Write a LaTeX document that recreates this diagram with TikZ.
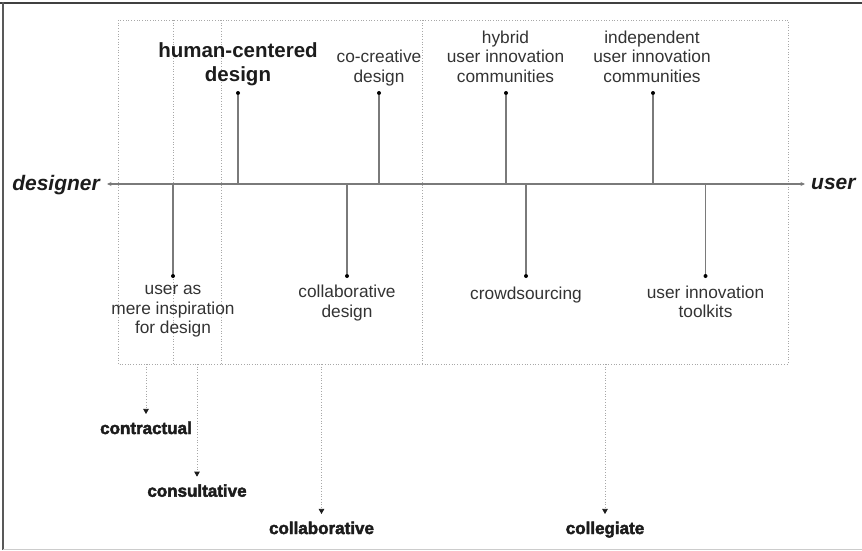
\documentclass[tikz,border=0pt]{standalone}
\usepackage{fontspec}
\setmainfont{Liberation Sans}
\newfontfamily\heavyfont[FakeBold=2.6]{Liberation Sans Bold}
\usetikzlibrary{arrows.meta}

\definecolor{axisgray}{HTML}{7A7A7A}
\definecolor{zonegray}{HTML}{A8A8A8}
\definecolor{textgray}{HTML}{333333}
\definecolor{inkblack}{HTML}{1C1C1C}

\begin{document}
\begin{tikzpicture}[x=1pt, y=-1pt,
  axisline/.style={draw=axisgray, line width=1.1pt},
  stem/.style={draw=axisgray, line width=1.1pt},
  dotmark/.style={circle, fill=black, inner sep=0pt, minimum size=4pt},
  zone/.style={draw=zonegray, dotted, line width=0.7pt},
  lbl/.style={font=\fontsize{17.3}{19.3}\selectfont, text=textgray, align=center, inner sep=0pt, anchor=base},
  hdr/.style={font=\fontsize{20.5}{24}\selectfont\bfseries, text=inkblack, align=center, inner sep=0pt, anchor=base},
  endlbl/.style={font=\fontsize{21}{24}\selectfont\bfseries\itshape, text=inkblack, inner sep=0pt},
  mode/.style={font=\heavyfont\fontsize{17}{20}\selectfont, text=inkblack, inner sep=0pt, anchor=base},
  modearrow/.style={zone, -{Triangle[length=5pt, width=5.5pt, color=inkblack]}, shorten >=7.5pt}
]
\useasboundingbox (0,0) rectangle (862,550);

% frame
\draw[draw=black!75, line width=1.5pt] (0,3) -- (862,3);
\draw[draw=black!65, line width=2.5pt] (3,2) -- (3,550);
\draw[draw=black!20, line width=1pt] (3,549.3) -- (862,549.3);

% zones of participation
\draw[zone] (118,20) rectangle (788,364);
\draw[zone] (173,20) -- (173,364);
\draw[zone] (221,20) -- (221,364);
\draw[zone] (422,20) -- (422,364);

% axis ends
\node[endlbl, anchor=base east] (designer) at (100,190.5) {designer};
\node[endlbl, anchor=base west] (user) at (811,189) {user};
\coordinate (axL) at (107,184);
\coordinate (axR) at (805,184);
\draw[axisline, {Stealth[length=4.5pt, width=4pt]}-{Stealth[length=4.5pt, width=4pt]}] (axL) -- (axR);

% approaches above the axis (text anchored at the baseline of its last line)
\node[dotmark] (hcdDot) at (238,93) {};
\node[dotmark] (ccdDot) at (379,93) {};
\node[dotmark] (huiDot) at (506,93) {};
\node[dotmark] (iuiDot) at (653,93) {};
\coordinate (hcdBase) at (238,184);
\coordinate (ccdBase) at (379,184);
\coordinate (huiBase) at (506,184);
\coordinate (iuiBase) at (653,184);
\draw[stem] (hcdBase) -- (hcdDot);
\draw[stem] (ccdBase) -- (ccdDot);
\draw[stem] (huiBase) -- (huiDot);
\draw[stem] (iuiBase) -- (iuiDot);
\node[hdr] (hcd) at (238,81) {human-centered\\design};
\node[lbl] (ccd) at (379,82) {co-creative\\design};
\node[lbl] (hui) at (505.5,82) {hybrid\\user innovation\\communities};
\node[lbl] (iui) at (652,82) {independent\\user innovation\\communities};

% approaches below the axis
\node[dotmark] (umiDot) at (173,276) {};
\node[dotmark] (cdDot) at (347,276) {};
\node[dotmark] (csDot) at (526,276) {};
\node[dotmark] (uitDot) at (705.5,276) {};
\coordinate (umiBase) at (173,184);
\coordinate (cdBase) at (347,184);
\coordinate (csBase) at (526,184);
\coordinate (uitBase) at (705.5,184);
\draw[stem] (umiBase) -- (umiDot);
\draw[stem] (cdBase) -- (cdDot);
\draw[stem] (csBase) -- (csDot);
\draw[stem] (uitBase) -- (uitDot);
\node[lbl] (umi) at (173,333.5) {user as\\mere inspiration\\for design};
\node[lbl] (cd) at (347,317) {collaborative\\design};
\node[lbl] (cs) at (526,299) {crowdsourcing};
\node[lbl] (uit) at (705.5,317.5) {user innovation\\toolkits};

% modes of participation
\node[mode] (contractual) at (146,434) {contractual};
\node[mode] (consultative) at (197,496.7) {consultative};
\node[mode] (collaborative) at (321.5,534) {collaborative};
\node[mode] (collegiate) at (605,534) {collegiate};
\coordinate (ctTop) at (146,364);
\coordinate (csTop) at (197,364);
\coordinate (cbTop) at (321.5,364);
\coordinate (cgTop) at (605,364);
\draw[modearrow] (ctTop) -- (contractual.north);
\draw[modearrow] (csTop) -- (consultative.north);
\draw[modearrow] (cbTop) -- (collaborative.north);
\draw[modearrow] (cgTop) -- (collegiate.north);
\end{tikzpicture}
\end{document}
